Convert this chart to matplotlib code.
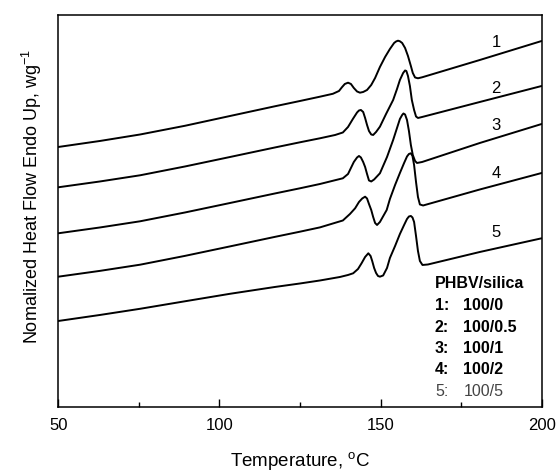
import matplotlib
matplotlib.use("Agg")
import matplotlib.pyplot as plt
from matplotlib.ticker import FixedLocator

plt.rcParams['font.family'] = ['Liberation Sans', 'DejaVu Sans']
plt.rcParams['mathtext.fontset'] = 'custom'
plt.rcParams['mathtext.rm'] = 'Liberation Sans'
plt.rcParams['mathtext.it'] = 'Liberation Sans:italic'
plt.rcParams['mathtext.bf'] = 'Liberation Sans:bold'

# ---- data (temperature in C, normalized heat flow in arbitrary stacked units) ----
t1 = [50, 62.9, 75.4, 89.3, 103.3, 117.2, 125.0, 131.2, 135.2, 137.1, 138.0, 138.9, 139.9,
      140.8, 141.7, 142.7, 143.6, 144.6, 145.8, 147.1, 148.3, 149.8, 151.4, 152.9, 154.2,
      154.8, 155.4, 156.0, 156.7, 157.6, 158.5, 159.4, 160.0, 160.7, 161.6, 162.9, 180.8, 200]
h1 = [2.60, 2.66, 2.725, 2.812, 2.91, 3.007, 3.06, 3.103, 3.132, 3.16, 3.197, 3.23, 3.243,
      3.23, 3.19, 3.155, 3.143, 3.15, 3.17, 3.22, 3.29, 3.40, 3.50, 3.58, 3.64,
      3.655, 3.663, 3.657, 3.64, 3.59, 3.51, 3.41, 3.34, 3.295, 3.287, 3.297, 3.47, 3.66]

t2 = [50, 62.9, 75.4, 89.3, 103.3, 117.2, 125.0, 131.2, 135.9, 138.3, 139.9, 141.4, 142.7,
      143.3, 143.9, 144.6, 145.2, 145.8, 146.4, 147.1, 147.7, 148.6, 149.8, 151.7, 153.9,
      155.1, 156.0, 157.0, 157.6, 158.0, 158.5, 159.1, 159.7, 160.4, 161.0, 161.6, 162.9,
      180.8, 200]
h2 = [2.197, 2.255, 2.317, 2.405, 2.50, 2.595, 2.647, 2.687, 2.72, 2.745, 2.80, 2.88, 2.945,
      2.965, 2.97, 2.95, 2.89, 2.82, 2.76, 2.725, 2.72, 2.75, 2.803, 2.93, 3.07,
      3.18, 3.27, 3.34, 3.365, 3.36, 3.31, 3.21, 3.07, 2.97, 2.905, 2.89, 2.90,
      3.05, 3.21]

t3 = [50, 62.9, 75.4, 89.3, 103.3, 117.2, 125.0, 131.2, 138.3, 139.9, 140.8, 141.7, 142.7,
      143.3, 143.9, 144.6, 145.2, 145.8, 146.4, 147.1, 148.0, 149.8, 152.0, 153.9, 155.1,
      156.0, 156.7, 157.1, 157.6, 158.2, 158.8, 159.4, 160.0, 160.7, 161.3, 162.9, 180.8, 200]
h3 = [1.737, 1.795, 1.857, 1.945, 2.04, 2.135, 2.187, 2.23, 2.287, 2.33, 2.39, 2.45, 2.495,
      2.51, 2.495, 2.45, 2.40, 2.33, 2.265, 2.255, 2.275, 2.337, 2.50, 2.67, 2.79,
      2.88, 2.92, 2.935, 2.925, 2.87, 2.76, 2.62, 2.52, 2.46, 2.44, 2.45, 2.64, 2.83]

t4 = [50, 62.9, 75.4, 89.3, 103.3, 117.2, 125.0, 131.2, 138.3, 140.5, 142.1, 143.3, 144.3,
      145.2, 145.8, 146.4, 147.1, 147.7, 148.3, 148.9, 149.8, 151.9, 152.9, 154.5, 156.0,
      157.3, 158.2, 158.8, 159.4, 159.9, 160.4, 161.0, 161.6, 162.2, 163.2, 180.8, 200]
h4 = [1.303, 1.361, 1.423, 1.511, 1.606, 1.701, 1.753, 1.796, 1.865, 1.93, 1.987, 2.05, 2.085,
      2.103, 2.085, 2.03, 1.97, 1.90, 1.84, 1.82, 1.85, 1.97, 2.08, 2.22, 2.34,
      2.44, 2.505, 2.53, 2.537, 2.51, 2.42, 2.25, 2.10, 2.025, 2.015, 2.175, 2.34]

t5 = [50, 62.9, 75.4, 89.3, 103.3, 117.2, 125.0, 131.2, 137.4, 139.9, 141.5, 143.0, 144.1,
      145.2, 146.2, 146.9, 147.4, 148.0, 148.6, 149.2, 149.8, 150.8, 152.0, 152.9, 154.5,
      156.0, 157.3, 158.2, 158.8, 159.4, 159.9, 160.4, 161.0, 161.6, 162.2, 163.0, 164.7,
      180.8, 200]
h5 = [0.86, 0.92, 0.982, 1.057, 1.132, 1.20, 1.235, 1.265, 1.30, 1.32, 1.337, 1.38, 1.437,
      1.50, 1.537, 1.51, 1.46, 1.39, 1.34, 1.31, 1.303, 1.315, 1.39, 1.49, 1.61,
      1.73, 1.82, 1.88, 1.905, 1.91, 1.895, 1.85, 1.71, 1.56, 1.46, 1.42, 1.425,
      1.55, 1.687]

curves = [(t1, h1), (t2, h2), (t3, h3), (t4, h4), (t5, h5)]
curve_ids = ['1', '2', '3', '4', '5']
legend_title = 'PHBV/silica'
legend_keys = ['1:', '2:', '3:', '4:', '5:']
legend_vals = ['100/0', '100/0.5', '100/1', '100/2', '100/5']
x_major = [50, 100, 150, 200]
x_minor = [75, 125, 175]

fig = plt.figure(figsize=(5.58, 4.74), dpi=100)
ax = fig.add_axes([0.1045, 0.1414, 0.8663, 0.8270])

for t, h in curves:
    ax.plot(t, h, color='black', lw=1.4, solid_joinstyle='round', solid_capstyle='round')

ax.set_xlim(50, 200)
ax.set_ylim(0, 3.92)
ax.set_yticks([])
ax.xaxis.set_major_locator(FixedLocator(x_major))
ax.xaxis.set_minor_locator(FixedLocator(x_minor))
ax.tick_params(axis='x', which='major', direction='in', length=6, width=1.0,
               labelsize=12, pad=8, top=False)
ax.tick_params(axis='x', which='minor', direction='in', length=3.5, width=1.0, top=False)
for s in ax.spines.values():
    s.set_linewidth(1.1)

ax.set_xlabel('Temperature, $^{\\mathrm{o}}$C', fontsize=13.5, labelpad=12)
fig.text(0.057, 0.585, 'Nomalized Heat Flow Endo Up, wg$^{\\mathrm{-1}}$',
         rotation=90, ha='center', va='center', fontsize=13)

# curve numbers
label_y = [3.64, 3.18, 2.81, 2.33, 1.74]
for cid, ly in zip(curve_ids, label_y):
    ax.text(185.8, ly, cid, ha='center', va='center', fontsize=12)

# legend block
ax.text(0.779, 0.3138, legend_title, transform=ax.transAxes, ha='left', va='center',
        fontsize=11.5, fontweight='bold')
rows_y = [0.2577, 0.2033, 0.1497, 0.0944, 0.039]
for i, (k, v, ry) in enumerate(zip(legend_keys, legend_vals, rows_y)):
    w = 'bold' if i < 4 else 'normal'
    c = 'black' if i < 4 else '#444444'
    ax.text(0.779, ry, k, transform=ax.transAxes, ha='left', va='center',
            fontsize=11.5, fontweight=w, color=c)
    ax.text(0.838, ry, v, transform=ax.transAxes, ha='left', va='center',
            fontsize=11.5, fontweight=w, color=c)

fig.savefig('out.png', dpi=100)
